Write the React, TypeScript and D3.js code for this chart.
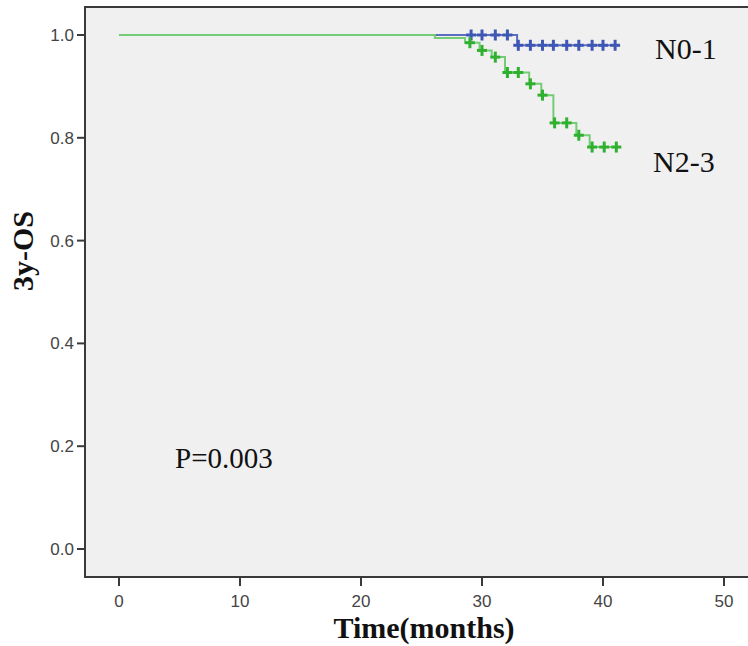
import { useEffect, useRef } from "react";
import * as d3 from "d3";

// Kaplan-Meier steps: [time, survival]
const n01Steps: [number, number][] = [
  [0, 1.0],
  [32.9, 0.98],
];
const n01End = 41.4;
const n01Censored = [29.1, 30.0, 31.1, 32.1, 33.0, 34.0, 35.0, 35.9, 37.0, 38.0, 39.1, 40.0, 41.0];

const n23Steps: [number, number][] = [
  [0, 1.0],
  [26.1, 0.994],
  [28.6, 0.985],
  [29.8, 0.97],
  [30.8, 0.957],
  [31.9, 0.927],
  [33.9, 0.905],
  [34.9, 0.883],
  [35.9, 0.829],
  [37.8, 0.805],
  [38.9, 0.782],
];
const n23End = 41.3;
const n23Censored = [29.0, 30.0, 31.1, 32.1, 33.0, 34.0, 35.0, 36.0, 37.0, 38.0, 39.1, 40.1, 41.1];

const xTicks = [0, 10, 20, 30, 40, 50];
const yTicks = [0, 0.2, 0.4, 0.6, 0.8, 1.0];

function survivalAt(steps: [number, number][], t: number) {
  let s = steps[0][1];
  for (const [st, sv] of steps) if (t >= st) s = sv;
  return s;
}

export default function App() {
  const svgRef = useRef<SVGSVGElement>(null);

  useEffect(() => {
    const width = 748;
    const height = 646;
    const frame = { left: 85, top: 7, bottom: 577 };

    const svg = d3.select(svgRef.current);
    svg.selectAll("*").remove();
    svg.attr("width", width).attr("height", height).style("display", "block");

    const x = d3.scaleLinear().domain([0, 50]).range([119, 724]);
    const y = d3.scaleLinear().domain([0, 1]).range([549, 35]);

    svg
      .append("rect")
      .attr("x", 0)
      .attr("y", 0)
      .attr("width", width)
      .attr("height", height)
      .attr("fill", "#ffffff");

    // Plot background
    svg
      .append("rect")
      .attr("x", frame.left)
      .attr("y", frame.top)
      .attr("width", width - frame.left + 5)
      .attr("height", frame.bottom - frame.top)
      .attr("fill", "#f0f0f0")
      .attr("stroke", "#3a3a3a")
      .attr("stroke-width", 2);

    // Y axis ticks
    const yAxis = svg.append("g");
    yTicks.forEach(v => {
      yAxis
        .append("line")
        .attr("x1", frame.left - 8)
        .attr("x2", frame.left)
        .attr("y1", y(v))
        .attr("y2", y(v))
        .attr("stroke", "#3a3a3a")
        .attr("stroke-width", 2);
      yAxis
        .append("text")
        .attr("x", frame.left - 11)
        .attr("y", y(v) + 6)
        .attr("text-anchor", "end")
        .attr("font-family", "Liberation Sans, Arial, sans-serif")
        .attr("font-size", "17px")
        .attr("fill", "#444")
        .text(d3.format(".1f")(v));
    });

    // X axis ticks
    const xAxis = svg.append("g");
    xTicks.forEach(v => {
      xAxis
        .append("line")
        .attr("x1", x(v))
        .attr("x2", x(v))
        .attr("y1", frame.bottom)
        .attr("y2", frame.bottom + 9)
        .attr("stroke", "#3a3a3a")
        .attr("stroke-width", 2);
      xAxis
        .append("text")
        .attr("x", x(v))
        .attr("y", 607)
        .attr("text-anchor", "middle")
        .attr("font-family", "Liberation Sans, Arial, sans-serif")
        .attr("font-size", "17px")
        .attr("fill", "#444")
        .text(v);
    });

    const line = d3
      .line<[number, number]>()
      .x(d => x(d[0]))
      .y(d => y(d[1]))
      .curve(d3.curveStepAfter);

    const drawGroup = (
      steps: [number, number][],
      end: number,
      censored: number[],
      color: string,
      lineColor: string
    ) => {
      const pts: [number, number][] = [...steps, [end, steps[steps.length - 1][1]]];
      svg
        .append("path")
        .attr("d", line(pts))
        .attr("fill", "none")
        .attr("stroke", lineColor)
        .attr("stroke-width", 2);
      const g = svg.append("g").attr("stroke", color).attr("stroke-width", 3);
      censored.forEach(t => {
        const cx = x(t);
        const cy = y(survivalAt(steps, t));
        g.append("line").attr("x1", cx).attr("x2", cx).attr("y1", cy - 5.5).attr("y2", cy + 5.5);
        g.append("line").attr("x1", cx - 5).attr("x2", cx + 5).attr("y1", cy).attr("y2", cy);
      });
    };

    drawGroup(n01Steps, n01End, n01Censored, "#3f57b4", "#5a6fc0");
    drawGroup(n23Steps, n23End, n23Censored, "#2fb02f", "#74cc74");

    const serif = "Liberation Serif, Times New Roman, serif";

    svg
      .append("text")
      .attr("x", 655)
      .attr("y", 59)
      .attr("font-family", serif)
      .attr("font-size", "30px")
      .attr("fill", "#111")
      .text("N0-1");

    svg
      .append("text")
      .attr("x", 653)
      .attr("y", 172)
      .attr("font-family", serif)
      .attr("font-size", "30px")
      .attr("fill", "#111")
      .text("N2-3");

    svg
      .append("text")
      .attr("x", 175)
      .attr("y", 468)
      .attr("font-family", serif)
      .attr("font-size", "29px")
      .attr("fill", "#111")
      .text("P=0.003");

    svg
      .append("text")
      .attr("x", 424)
      .attr("y", 638)
      .attr("text-anchor", "middle")
      .attr("font-family", serif)
      .attr("font-size", "30px")
      .attr("font-weight", "bold")
      .attr("fill", "#111")
      .text("Time(months)");

    svg
      .append("text")
      .attr("transform", "rotate(-90)")
      .attr("x", -251)
      .attr("y", 33)
      .attr("text-anchor", "middle")
      .attr("font-family", serif)
      .attr("font-size", "30px")
      .attr("font-weight", "bold")
      .attr("fill", "#111")
      .text("3y-OS");
  }, []);

  return (
    <div style={{ position: "absolute", left: 0, top: 0 }}>
      <svg ref={svgRef}></svg>
    </div>
  );
}
